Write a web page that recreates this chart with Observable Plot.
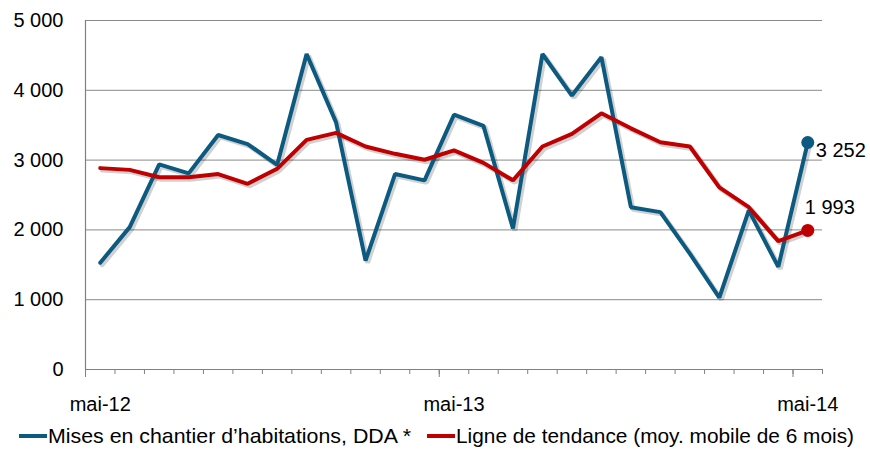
<!DOCTYPE html>
<html><head><meta charset="utf-8">
<script src="https://cdn.jsdelivr.net/npm/d3@7"></script>
<script src="https://cdn.jsdelivr.net/npm/@observablehq/plot@0.6"></script>
<style>
body{margin:0;background:#fff;font-family:"Liberation Sans",Arial,sans-serif;}
#wrap{position:relative;width:870px;height:449px;overflow:hidden;}
#legend{position:absolute;left:0;top:424px;width:870px;height:24px;font-size:21px;color:#000;white-space:nowrap;}
#legend .sw{display:inline-block;width:28px;height:4px;margin-right:1px;}
#legend .item{position:absolute;top:0;height:24px;display:flex;align-items:center;}
</style></head><body>
<div id="wrap"><div id="legend"></div></div>
<script>
const months = ["mai-12","juin-12","juil-12","août-12","sept-12","oct-12","nov-12","déc-12","janv-13","févr-13","mars-13","avr-13","mai-13","juin-13","juil-13","août-13","sept-13","oct-13","nov-13","déc-13","janv-14","févr-14","mars-14","avr-14","mai-14"];
const mises = [1530,2040,2940,2810,3360,3230,2930,4520,3540,1560,2800,2710,3650,3490,2020,4520,3925,4475,2325,2255,1660,1030,2280,1470,3252];
const tendance = [2885,2860,2755,2755,2800,2660,2875,3290,3390,3195,3090,3005,3140,2960,2710,3195,3375,3670,3455,3255,3195,2610,2325,1840,1993];
const yTicks = [0,1000,2000,3000,4000,5000];
const xTickLabels = ["mai-12","mai-13","mai-14"];
const seriesNames = ["Mises en chantier d\u2019habitations, DDA *","Ligne de tendance (moy. mobile de 6 mois)"];
const colors = ["#0d5a80","#c00000"];

const fmt = d3.formatLocale({decimal:",",thousands:" ",grouping:[3],currency:["",""]}).format(",");
const rows = months.map((m,i)=>({i, m, mises: mises[i], tendance: tendance[i]}));
const labelIdx = xTickLabels.map(l => months.indexOf(l));
const minorTicks = d3.range(months.length + 1).map(i => i - 0.5);
const majorTicks = labelIdx.map(i => i - 0.5);
const last = rows[rows.length-1];

const chart = Plot.plot({
  width: 870, height: 449,
  marginLeft: 85, marginRight: 48, marginTop: 20, marginBottom: 80,
  style: {fontFamily: '"Liberation Sans", Arial, sans-serif', fontSize: "20px", color: "#000", background: "#fff", overflow: "visible"},
  x: {type: "linear", domain: [-0.5, months.length - 0.5], axis: null},
  y: {domain: [0, 5000], axis: null},
  marks: [
    Plot.gridY(yTicks.filter(d => d > 0), {stroke: "#8a8a8a", strokeOpacity: 1, strokeWidth: 1}),
    Plot.ruleX([-0.5], {stroke: "#808080", strokeWidth: 1.2}),
    Plot.ruleY([0], {stroke: "#808080", strokeWidth: 1.2}),
    Plot.axisX(minorTicks, {tickSize: 5, tickFormat: () => "", stroke: "#808080", label: null}),
    Plot.axisX(majorTicks, {tickSize: 8, tickFormat: () => "", stroke: "#808080", label: null}),
    Plot.axisX(labelIdx, {tickSize: 0, tickPadding: 27, tickFormat: i => months[i], fontSize: 20, label: null}),
    Plot.axisY(yTicks, {tickSize: 0, tickPadding: 22, tickFormat: fmt, fontSize: 20, label: null}),
    // shadows
    Plot.line(rows, {x: "i", y: "mises", stroke: "#000", strokeOpacity: 0.18, strokeWidth: 5, dx: 2, dy: 2, strokeLinejoin: "miter"}),
    Plot.line(rows, {x: "i", y: "tendance", stroke: "#000", strokeOpacity: 0.18, strokeWidth: 5, dx: 2, dy: 2, strokeLinejoin: "miter"}),
    Plot.line(rows, {x: "i", y: "mises", stroke: colors[0], strokeWidth: 4, strokeLinejoin: "miter"}),
    Plot.line(rows, {x: "i", y: "tendance", stroke: colors[1], strokeWidth: 4, strokeLinejoin: "miter"}),
    Plot.dot([last], {x: "i", y: "mises", r: 6.5, fill: colors[0]}),
    Plot.dot([last], {x: "i", y: "tendance", r: 6.5, fill: colors[1]}),
    Plot.text([last], {x: "i", y: "mises", text: d => fmt(d.mises), textAnchor: "start", dx: 8, dy: 8, fontSize: 20, fill: "#000"}),
    Plot.text([last], {x: "i", y: "tendance", text: d => fmt(d.tendance), textAnchor: "start", dx: -3, dy: -23, fontSize: 20, fill: "#000"})
  ]
});
const wrap = document.getElementById("wrap");
wrap.insertBefore(chart, wrap.firstChild);

const legend = document.getElementById("legend");
const itemLeft = [19, 427];
const textWidth = [363, 398];
seriesNames.forEach((name, k) => {
  const item = document.createElement("span");
  item.className = "item";
  item.style.left = itemLeft[k] + "px";
  const sw = document.createElement("span");
  sw.className = "sw";
  sw.style.background = colors[k];
  item.appendChild(sw);
  const t = document.createElement("span");
  t.textContent = name;
  t.style.display = "inline-block";
  t.style.transformOrigin = "0 50%";
  item.appendChild(t);
  legend.appendChild(item);
  const w = t.getBoundingClientRect().width;
  if (w > 0) t.style.transform = `scaleX(${textWidth[k] / w})`;
});
</script>
</body></html>
